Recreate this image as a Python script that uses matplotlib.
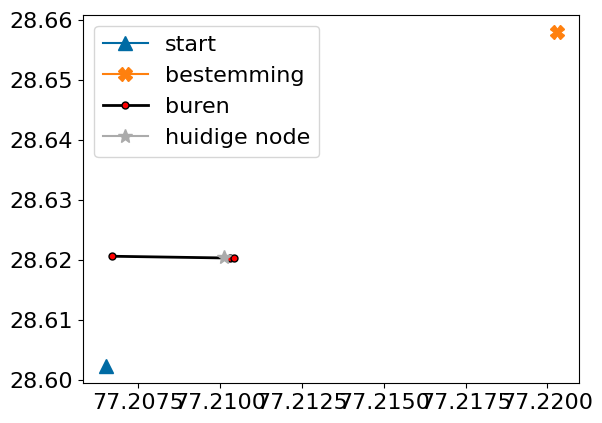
import matplotlib
matplotlib.use("Agg")
import matplotlib.pyplot as plt

plt.style.use("tableau-colorblind10")
plt.rcParams["font.size"] = 16

start_x = [77.20650]
start_y = [28.60232]
dest_x = [77.22028]
dest_y = [28.65800]
buren_x = [77.20670, 77.21030, 77.21042]
buren_y = [28.62060, 28.62030, 28.62025]
node_x = [77.21011]
node_y = [28.62040]

fig, ax = plt.subplots(figsize=(6.02, 4.23), dpi=100)
ax.plot(start_x, start_y, marker="^", markersize=10, label="start")
ax.plot(dest_x, dest_y, marker="X", markersize=10, label="bestemming")
ax.plot(buren_x, buren_y, color="black", linewidth=2, marker="o",
        markersize=5, markerfacecolor="red", markeredgecolor="black", label="buren")
ax.plot(node_x, node_y, marker="*", markersize=10, color="#ababab", label="huidige node")
ax.legend(loc="upper left")

fig.subplots_adjust(left=0.138, right=0.962, top=0.965, bottom=0.095)
fig.savefig("out.png")
